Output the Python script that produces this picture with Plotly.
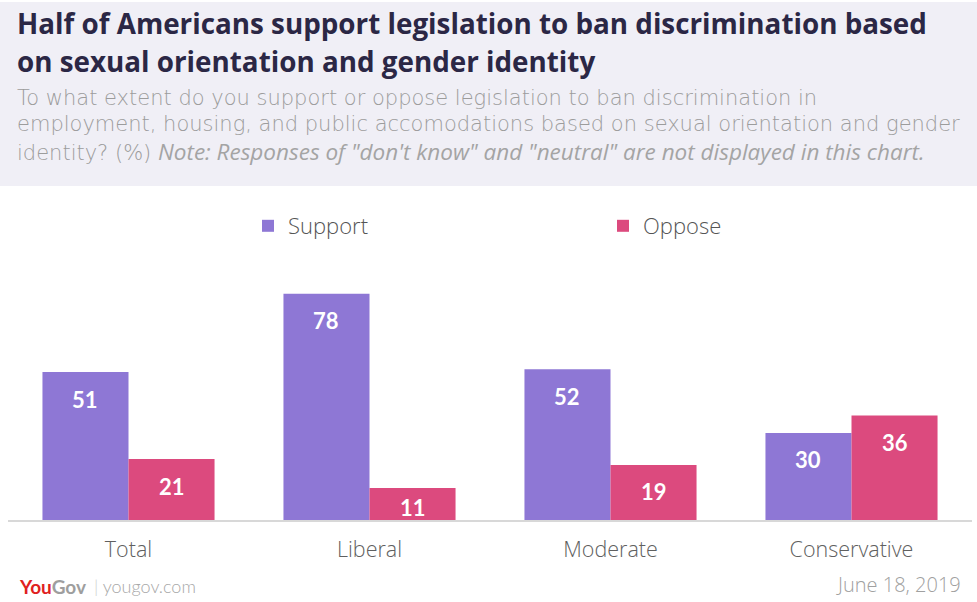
import plotly.graph_objects as go

categories = ["Total", "Liberal", "Moderate", "Conservative"]
support = [51, 78, 52, 30]
oppose = [21, 11, 19, 36]
series_names = ["Support", "Oppose"]
colors = ["#8e77d5", "#dc4a7e"]

title_lines = ["Half of Americans support legislation to ban discrimination based",
               "on sexual orientation and gender identity"]
subtitle_lines = [
    "To what extent do you support or oppose legislation to ban discrimination in",
    "employment, housing, and public accomodations based on sexual orientation and gender",
    "identity? (%) <span style='font-family:Open Sans;font-weight:400;font-size:22.5px;color:#a4a4a4'><i>Note: Responses of \"don't know\" and \"neutral\" are not displayed in this chart.</i></span>",
]
date_text = "June 18, 2019"

W, H = 977, 602
L, R, T, B = 8, 5, 250, 82
PW, PH = W - L - R, H - T - B
YMAX = 93.1
BARGAP = 0.286
FONT = "Open Sans"


def px(x):
    return (x - L) / PW


def py(y):
    return (H - B - y) / PH


fig = go.Figure()
legend_ids = ["legend", "legend2"]
for name, vals, col, lg in zip(series_names, [support, oppose], colors, legend_ids):
    fig.add_trace(go.Bar(name=name, x=categories, y=vals, marker_color=col,
                         marker_line_width=0, hoverinfo="skip", legend=lg))

annotations = []
half_w = (1 - BARGAP) / 4
for k, vals in enumerate([support, oppose]):
    sign = -1 if k == 0 else 1
    for i, v in enumerate(vals):
        annotations.append(dict(
            x=i + sign * half_w, y=v - min(9.3, 0.6 * v), xref="x", yref="y",
            text=f"<b>{v}</b>", showarrow=False,
            font=dict(family="Lato", size=22, color="white"),
            xanchor="center", yanchor="middle"))

title_y = [23, 61]
for t, yy in zip(title_lines, title_y):
    annotations.append(dict(x=px(15), y=py(yy), xref="paper", yref="paper",
                            text=f"<b>{t}</b>", showarrow=False,
                            xanchor="left", yanchor="middle",
                            font=dict(family=FONT, size=27.8, color="#2b2745")))
sub_y = [98, 124, 151]
for t, yy in zip(subtitle_lines, sub_y):
    annotations.append(dict(x=px(15), y=py(yy), xref="paper", yref="paper",
                            text=t, showarrow=False,
                            xanchor="left", yanchor="middle",
                            font=dict(family="DejaVu Sans", size=21, color="#9c9c9c", weight=200)))

annotations.append(dict(x=px(17), y=py(586), xref="paper", yref="paper",
                        text="<b><span style='color:#e0211f'>You</span><span style='color:#9e9e9e'>Gov</span></b>",
                        showarrow=False, xanchor="left", yanchor="middle",
                        font=dict(family="Lato", size=19)))
annotations.append(dict(x=px(92), y=py(586), xref="paper", yref="paper",
                        text="<span style='color:#cccccc'>|</span> yougov.com",
                        showarrow=False, xanchor="left", yanchor="middle",
                        font=dict(family="Lato", size=18, color="#a8a8a8", weight=300)))
annotations.append(dict(x=px(963), y=py(584), xref="paper", yref="paper",
                        text=date_text, showarrow=False, xanchor="right", yanchor="middle",
                        font=dict(family=FONT, size=20, color="#a0a0a0", weight=300)))

shapes = [dict(type="rect", xref="paper", yref="paper",
               x0=px(0), x1=px(W), y0=py(186), y1=py(2),
               fillcolor="#f0eff6", line_width=0, layer="below")]

legend_font = dict(family=FONT, size=22, color="#555555", weight=300)
fig.update_layout(
    width=W, height=H,
    margin=dict(l=L, r=R, t=T, b=B),
    paper_bgcolor="white", plot_bgcolor="white",
    barmode="group", bargap=BARGAP, bargroupgap=0,
    showlegend=True,
    legend=dict(orientation="h", x=px(248), y=py(226), xanchor="left", yanchor="middle",
                font=legend_font, bgcolor="rgba(0,0,0,0)"),
    legend2=dict(orientation="h", x=px(603), y=py(226), xanchor="left", yanchor="middle",
                 font=legend_font, bgcolor="rgba(0,0,0,0)"),
    xaxis=dict(showline=True, linecolor="#d8d8d8", linewidth=2, showgrid=False,
               ticks="outside", ticklen=9, tickcolor="rgba(0,0,0,0)",
               tickfont=dict(family=FONT, size=21.5, color="#606060", weight=300),
               fixedrange=True),
    yaxis=dict(range=[0, YMAX], visible=False, showgrid=False, fixedrange=True),
    annotations=annotations,
    shapes=shapes,
)

fig.write_html("out.html")
